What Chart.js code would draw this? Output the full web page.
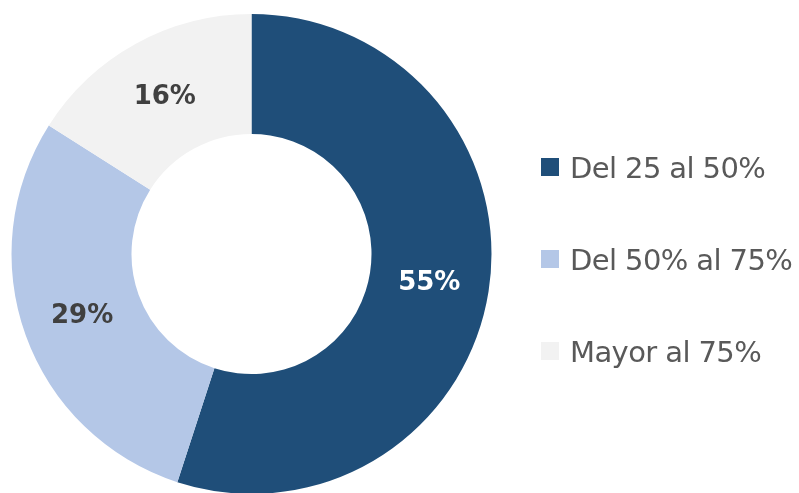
<!DOCTYPE html>
<html>
<head>
<meta charset="utf-8">
<script src="https://cdn.jsdelivr.net/npm/chart.js@4"></script>
<style>
  html, body { margin: 0; padding: 0; background: #fff; }
  body { width: 799px; height: 493px; overflow: hidden; position: relative; font-family: "DejaVu Sans", sans-serif; }
  #wrap { position: absolute; left: 0; top: 0; width: 799px; height: 508px; }
  #legend { position: absolute; left: 541px; top: 0; }
  .item { position: absolute; left: 0; white-space: nowrap; color: #595959; font-size: 29px; line-height: 30px; letter-spacing: -0.6px; }
  .box { position: absolute; left: 0; top: 5px; width: 18px; height: 18px; }
  .txt { position: absolute; left: 29px; top: 0; }
</style>
</head>
<body>
<div id="wrap"><canvas id="myDonut"></canvas></div>
<div id="legend"></div>
<script>
const categories = ["Del 25 al 50%", "Del 50% al 75%", "Mayor al 75%"];
const values = [55, 29, 16];
const valueLabels = ["55%", "29%", "16%"];
const colors = ["#1F4E79", "#B4C7E7", "#F2F2F2"];
const labelColors = ["#FFFFFF", "#404040", "#404040"];

// draws the % labels in the middle of each slice
const sliceLabels = {
  id: "sliceLabels",
  afterDatasetsDraw(chart) {
    const ctx = chart.ctx;
    const meta = chart.getDatasetMeta(0);
    ctx.save();
    ctx.font = "bold 26px 'DejaVu Sans', sans-serif";
    ctx.textAlign = "center";
    ctx.textBaseline = "middle";
    meta.data.forEach((arc, i) => {
      const p = arc.tooltipPosition();
      ctx.fillStyle = labelColors[i];
      ctx.fillText(valueLabels[i], p.x, p.y + 1);
    });
    ctx.restore();
  }
};

const ctx = document.getElementById("myDonut").getContext("2d");
const donut = new Chart(ctx, {
  type: "doughnut",
  data: {
    labels: categories,
    datasets: [{
      data: values,
      backgroundColor: colors,
      borderWidth: 0,
    }],
  },
  options: {
    responsive: true,
    maintainAspectRatio: false,
    animation: false,
    cutout: "50%",
    layout: { padding: { left: 11, top: 14, bottom: 14, right: 307 } },
    plugins: {
      legend: { display: false },
      tooltip: { enabled: false },
    },
  },
  plugins: [sliceLabels],
});

// legend on the right
const legend = document.getElementById("legend");
const rowsY = [153, 245, 337];
categories.forEach((c, i) => {
  const item = document.createElement("div");
  item.className = "item";
  item.style.top = rowsY[i] + "px";
  item.innerHTML = '<span class="box" style="background:' + colors[i] + '"></span><span class="txt">' + c + '</span>';
  legend.appendChild(item);
});
</script>
</body>
</html>
